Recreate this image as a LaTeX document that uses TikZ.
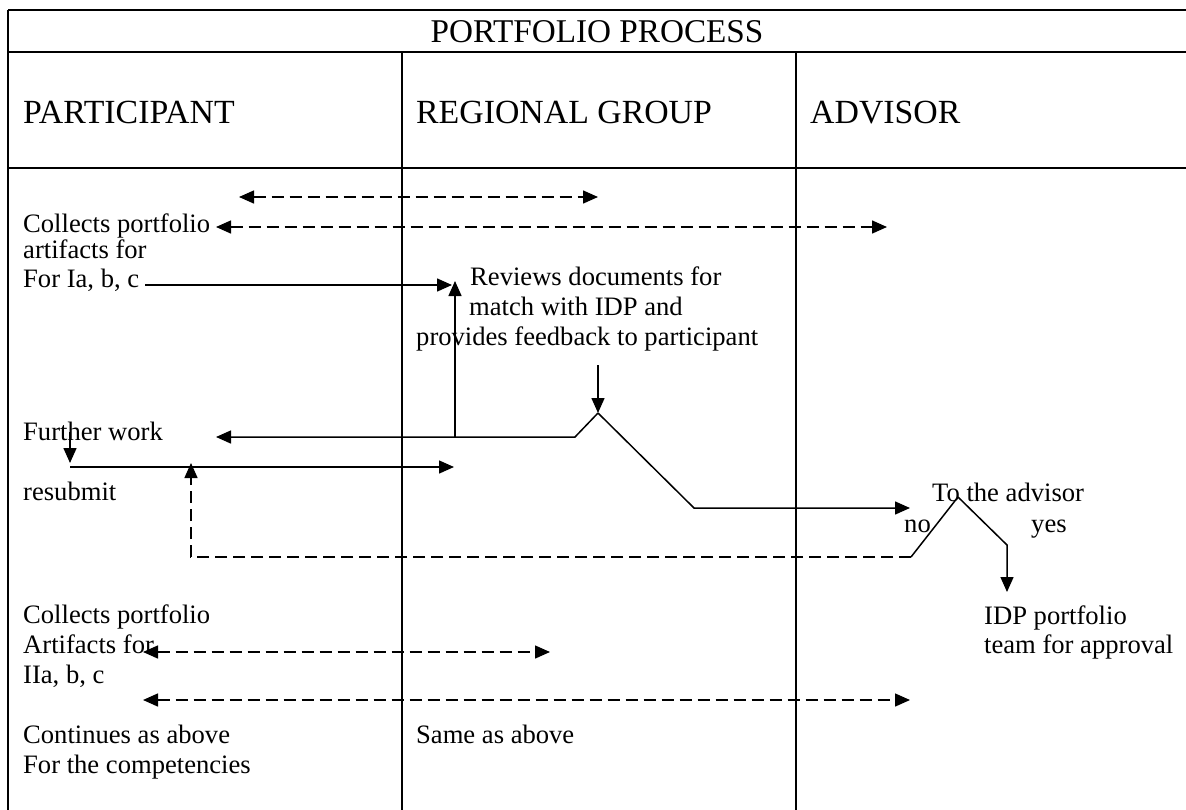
\documentclass[tikz,border=0pt]{standalone}
\usepackage{fontspec}
\setmainfont{Liberation Serif}
\usetikzlibrary{arrows.meta}
\begin{document}
\begin{tikzpicture}[x=1pt,y=-1pt,
  body/.style={font=\fontsize{26.6}{30}\selectfont, inner sep=0pt, anchor=base west, align=left},
  head/.style={font=\fontsize{33.8}{38}\selectfont, inner sep=0pt, anchor=base west},
  frame/.style={line width=2.2pt},
  lane/.style={line width=1.8pt},
  link/.style={line width=1.5pt},
  flow/.style={link, -{Triangle[length=15pt,width=13pt]}},
  dflow/.style={flow, dash pattern=on 12pt off 6pt},
  both/.style={link, dash pattern=on 12pt off 6pt, {Triangle[length=15pt,width=13pt]}-{Triangle[length=15pt,width=13pt]}}]
\useasboundingbox (0,0) rectangle (1186,809);
\clip (0,0) rectangle (1186,809);
% table frame
\draw[frame] (8,10) -- (1200,10);
\draw[frame] (8,10) -- (8,820);
\draw[frame] (8,52) -- (1200,52);
\draw[frame] (8,168) -- (1200,168);
\draw[lane] (402,52) -- (402,820);
\draw[lane] (796,52) -- (796,820);
% headings
\node[head, anchor=base, font=\fontsize{33.2}{38}\selectfont] (title) at (597,42) {PORTFOLIO PROCESS};
\node[head] (hpart) at (23,123) {PARTICIPANT};
\node[head] (hreg) at (416,123) {REGIONAL GROUP};
\node[head] (hadv) at (810,123) {ADVISOR};
% texts (anchored at the baseline of the last line)
\node[body] (collect1) at (23,287) {Collects portfolio\\[-4pt]artifacts for\\[-1pt]For Ia, b, c};
\node[body] (review) at (416,345) {\hspace*{54pt}Reviews documents for\\\hspace*{53pt}match with IDP and\\provides feedback to participant};
\node[body] (further) at (23,440) {Further work};
\node[body] (resub) at (23,500) {resubmit};
\node[body] (toadv) at (932,501) {To the advisor};
\node[body] (no) at (904,532) {no};
\node[body] (yes) at (1031,532) {yes};
\node[body] (idp) at (984,653) {IDP portfolio\\[-1pt]team for approval};
\node[body] (collect2) at (23,683) {Collects portfolio\\Artifacts for\\IIa, b, c};
\node[body] (cont) at (23,773) {Continues as above\\For the competencies};
\node[body] (same) at (416,743) {Same as above};
% connector points
\coordinate (d1a) at (239,197);
\coordinate (d1b) at (598,197);
\coordinate (d2a) at (216,227);
\coordinate (d2b) at (887,227);
\coordinate (ia) at (145,285);
\coordinate (rin) at (452,285);
\coordinate (upbase) at (455,437);
\coordinate (uptip) at (455,281);
\coordinate (rdown) at (598,365);
\coordinate (peak) at (598,413);
\coordinate (shoulder) at (575,437);
\coordinate (fwtip) at (216,437);
\coordinate (valley) at (694,508);
\coordinate (advtip) at (910,508);
\coordinate (fwtop) at (70,432);
\coordinate (fwend) at (70,463);
\coordinate (rsstart) at (70,467);
\coordinate (rstip) at (454,467);
\coordinate (nofoot) at (911,557);
\coordinate (nocorner) at (191,557);
\coordinate (notip) at (191,463);
\coordinate (apeak) at (958,497);
\coordinate (yesknee) at (1007,545);
\coordinate (yestip) at (1007,592);
\coordinate (d3a) at (143,652);
\coordinate (d3b) at (550,652);
\coordinate (d4a) at (143,700);
\coordinate (d4b) at (910,700);
% connectors
\draw[both] (d1a) -- (d1b);
\draw[both] (d2a) -- (d2b);
\draw[flow] (ia) -- (rin);
\draw[flow] (upbase) -- (uptip);
\draw[flow] (rdown) -- (peak);
\draw[flow] (peak) -- (shoulder) -- (fwtip);
\draw[flow] (peak) -- (valley) -- (advtip);
\draw[flow] (fwtop) -- (fwend);
\draw[flow] (rsstart) -- (rstip);
\draw[dflow] (nofoot) -- (nocorner) -- (notip);
\draw[link] (nofoot) -- (apeak);
\draw[flow] (apeak) -- (yesknee) -- (yestip);
\draw[both] (d3a) -- (d3b);
\draw[both] (d4a) -- (d4b);
\end{tikzpicture}
\end{document}
